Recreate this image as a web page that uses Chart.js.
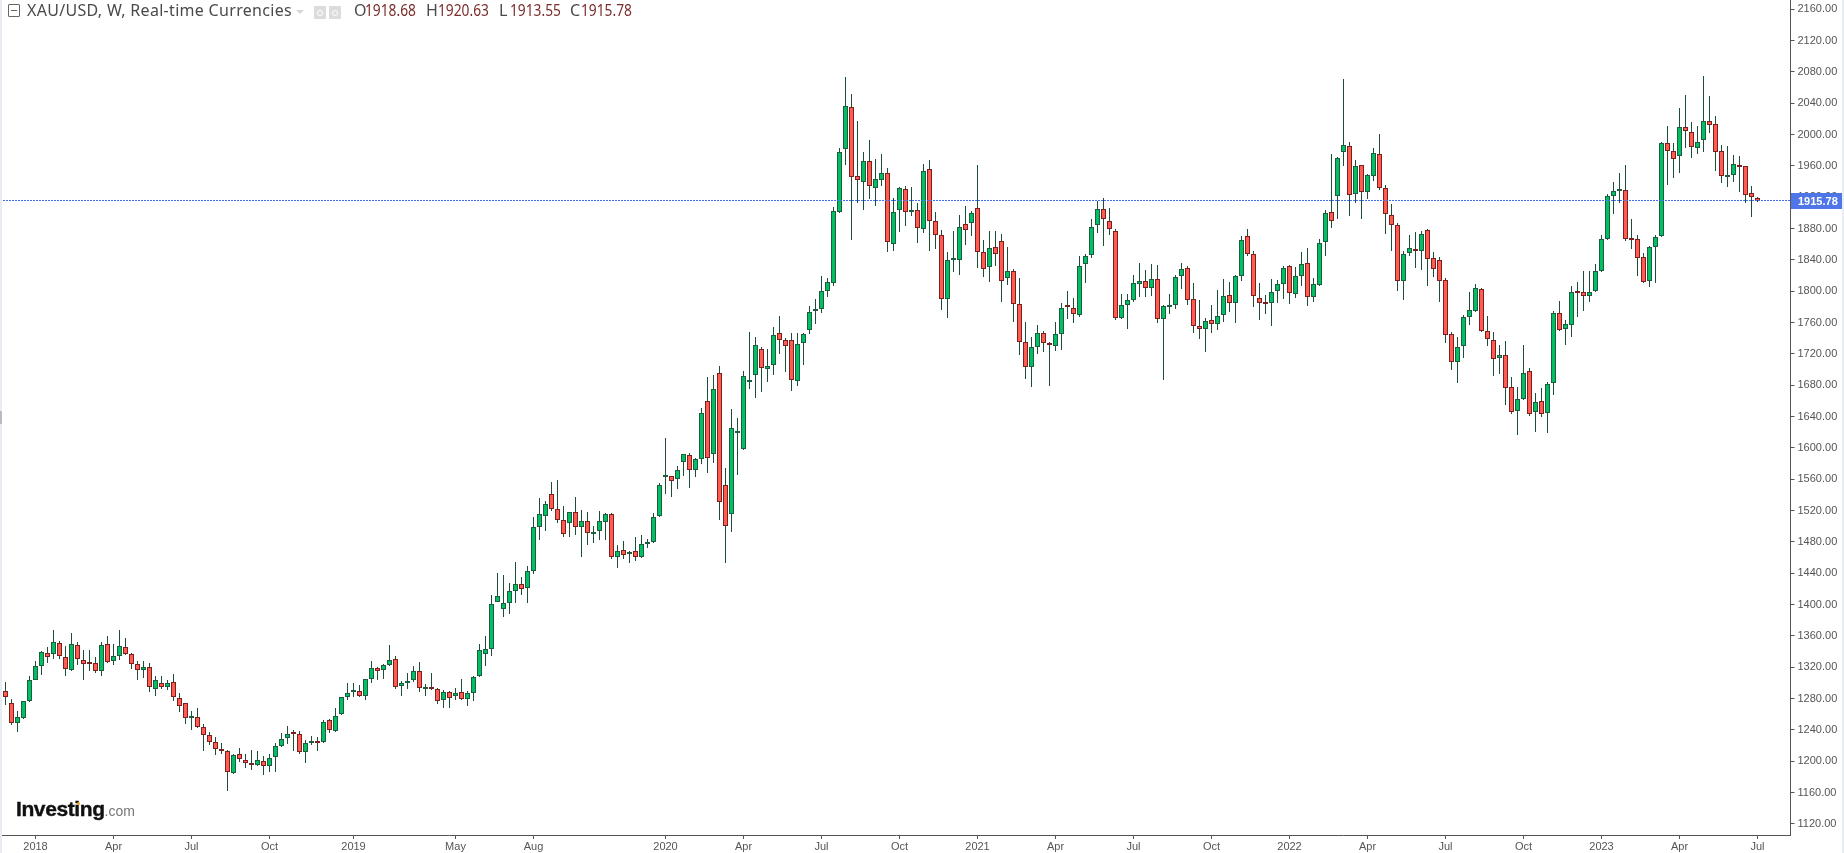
<!DOCTYPE html>
<html>
<head>
<meta charset="utf-8">
<title>XAU/USD weekly</title>
<script src="https://cdn.jsdelivr.net/npm/chart.js@4"></script>
<style>
html, body { margin: 0; padding: 0; background: #fff; overflow: hidden; }
#wrap { position: relative; width: 1844px; height: 853px; }
canvas { position: absolute; left: 0; top: 0; }
.strip { position: absolute; top: 0; height: 853px; background: #e9ecf2; }
#handle { position: absolute; left: 0; top: 411px; width: 2px; height: 13px; background: #b9bcc2; }
#legend { position: absolute; left: 0; top: 0; height: 24px; font: 16px "Noto Sans", sans-serif; color: #4a4a4a; white-space: nowrap; }
#legend span { position: absolute; top: -1px; }
#legend .val { color: #7b2b2b; transform: scaleX(0.86); transform-origin: 0 50%; }
.box { position: absolute; top: 6px; width: 12px; height: 13px; background: #dcdcdc; }
.box i { position: absolute; left: 3px; top: 4px; width: 4px; height: 4px; border: 1px solid #fff; border-radius: 50%; }
#collapse { position: absolute; left: 8px; top: 4px; width: 10px; height: 11px; border: 1px solid #666; border-radius: 1px; }
#collapse i { position: absolute; left: 2px; top: 5px; width: 6px; height: 1px; background: #666; }
#chev { position: absolute; left: 296px; top: 10px; width: 0; height: 0; border-left: 4px solid transparent; border-right: 4px solid transparent; border-top: 4px solid #d5d5d5; }
#logo { position: absolute; left: 16px; top: 797px; font-family: "Liberation Sans", Arial, sans-serif; white-space: nowrap; line-height: 24px; }
#logo b { font-size: 21px; letter-spacing: -0.4px; color: #111; -webkit-text-stroke: 0.4px #111; }
#logo span { font-size: 14px; color: #777; }
#dot { position: absolute; left: 77px; top: 802px; width: 3px; height: 3px; background: #f5a623; border-radius: 50%; }
</style>
</head>
<body>
<div id="wrap">
  <canvas id="chart" width="1844" height="853"></canvas>
  <div class="strip" style="left:0;width:2px"></div>
  <div class="strip" style="left:1842px;width:2px"></div>
  <div id="handle"></div>
  <div id="legend">
    <div id="collapse"><i></i></div>
    <span style="left:27px;letter-spacing:0.3px">XAU/USD, W, Real-time Currencies</span>
    <div id="chev"></div>
    <div class="box" style="left:314px"><i></i></div>
    <div class="box" style="left:329px"><i></i></div>
    <span style="left:354px">O</span><span class="val" style="left:365px">1918.68</span>
    <span style="left:426px">H</span><span class="val" style="left:438px">1920.63</span>
    <span style="left:499px">L</span><span class="val" style="left:510px">1913.55</span>
    <span style="left:570px">C</span><span class="val" style="left:581px">1915.78</span>
  </div>
  <div id="logo"><b>Investing</b><span>.com</span></div>
  <div id="dot"></div>
</div>
<script>
// --- Data ---
const opens = [
  1289.4,1274.0,1248.5,1254.9,1276.6,1304.3,1321.3,1337.9,1336.6,1350.6,
  1332.8,1316.2,1348.1,1329.0,1325.1,1325.1,1314.9,1349.4,1327.7,1334.0,
  1345.5,1336.6,1323.8,1316.2,1320.0,1291.9,1299.6,1294.5,1300.9,1280.4,
  1274.0,1254.9,1256.2,1243.4,1233.2,1224.3,1215.3,1212.8,1184.7,1209.0,
  1201.3,1196.2,1194.9,1200.0,1193.6,1205.1,1219.2,1229.4,1235.7,1234.5,
  1211.5,1223.4,1225.5,1224.3,1252.3,1238.3,1260.0,1281.7,1288.1,1289.4,
  1283.0,1304.7,1318.7,1316.2,1322.6,1330.2,1295.7,1299.6,1303.4,1314.9,
  1292.3,1293.2,1291.9,1277.9,1288.1,1283.0,1288.1,1279.2,1286.8,1308.5,
  1336.6,1343.0,1403.0,1394.0,1401.7,1417.0,1426.0,1420.9,1442.5,1498.7,
  1512.8,1540.9,1521.7,1507.7,1503.8,1517.9,1498.7,1506.4,1489.8,1493.6,
  1505.1,1515.3,1460.4,1469.3,1464.2,1468.0,1460.4,1477.0,1479.6,1512.8,
  1562.5,1563.8,1560.0,1581.7,1590.6,1571.5,1585.5,1659.6,1591.9,1695.3,
  1552.3,1515.3,1618.7,1598.3,1683.8,1692.7,1725.9,1700.4,1705.5,1746.4,
  1737.4,1737.4,1685.1,1733.6,1750.2,1774.4,1777.0,1800.0,1810.2,1900.8,
  1981.3,2034.9,1946.8,1939.1,1965.9,1931.5,1941.7,1950.6,1860.0,1903.4,
  1930.2,1900.8,1903.4,1879.1,1955.7,1889.3,1871.5,1789.8,1839.6,1839.6,
  1885.5,1886.8,1905.9,1849.8,1830.6,1856.2,1863.8,1816.6,1825.5,1783.4,
  1734.9,1703.0,1728.5,1746.4,1732.3,1729.8,1745.1,1780.8,1778.3,1769.3,
  1834.4,1845.9,1884.2,1904.7,1889.3,1876.6,1765.5,1782.1,1788.5,1808.9,
  1812.7,1803.8,1815.3,1764.2,1779.6,1782.1,1819.1,1829.3,1789.8,1755.3,
  1751.5,1763.0,1757.9,1769.3,1794.9,1784.7,1819.1,1870.2,1847.2,1791.0,
  1785.9,1784.7,1800.0,1808.9,1831.9,1796.2,1819.1,1835.7,1792.3,1807.6,
  1862.5,1900.8,1921.3,1977.4,1985.1,1923.8,1960.8,1926.4,1946.8,1974.9,
  1931.5,1897.0,1884.2,1812.7,1848.5,1852.3,1851.0,1877.9,1842.1,1839.6,
  1814.0,1745.1,1709.3,1729.8,1766.8,1774.4,1802.5,1748.9,1737.4,1714.4,
  1718.3,1677.4,1646.8,1662.1,1697.9,1645.5,1659.6,1644.2,1682.5,1771.9,
  1751.5,1756.6,1798.7,1798.7,1793.6,1800.0,1825.5,1866.4,1921.3,1927.6,
  1928.9,1866.4,1866.4,1843.4,1812.7,1856.2,1870.2,1988.9,1978.7,1972.3,
  2009.3,2003.0,1982.5,1992.7,2017.0,2013.2,1978.7,1945.5,1948.1,1960.8,
  1959.6,1925.1,1918.68
];
const highs = [
  1301.3,1279.6,1263.8,1277.5,1308.5,1327.7,1340.9,1345.5,1367.2,1353.2,
  1346.8,1363.4,1351.9,1341.7,1341.7,1332.8,1351.9,1359.6,1349.4,1367.2,
  1357.5,1337.9,1327.7,1327.7,1325.1,1309.4,1309.4,1303.8,1311.1,1286.8,
  1274.0,1263.8,1267.7,1247.2,1237.0,1230.6,1223.0,1214.5,1209.0,1216.6,
  1209.0,1214.0,1212.8,1206.4,1209.0,1223.0,1235.7,1244.7,1239.6,1238.3,
  1227.2,1232.0,1230.6,1252.3,1253.6,1267.7,1282.6,1299.6,1299.6,1297.9,
  1304.7,1327.7,1320.0,1323.8,1348.1,1334.0,1302.1,1312.3,1321.3,1326.8,
  1298.3,1312.3,1293.2,1290.6,1289.4,1293.2,1304.7,1289.4,1308.5,1349.4,
  1359.6,1411.9,1440.0,1437.4,1427.2,1454.0,1434.9,1448.9,1511.5,1535.7,
  1531.9,1556.2,1558.7,1525.5,1517.9,1537.0,1520.4,1517.9,1500.4,1519.1,
  1516.6,1516.6,1475.7,1481.3,1468.0,1486.0,1488.5,1483.4,1516.6,1554.9,
  1612.3,1563.8,1577.0,1591.9,1593.2,1586.8,1650.6,1690.6,1692.8,1704.2,
  1574.0,1649.3,1637.9,1697.9,1747.6,1741.3,1728.5,1725.9,1754.0,1768.1,
  1740.0,1746.4,1746.4,1746.4,1780.8,1789.8,1819.1,1816.6,1907.2,1982.5,
  2073.2,2051.5,2017.0,1977.4,1992.7,1968.5,1974.9,1957.0,1918.7,1932.7,
  1934.0,1932.7,1912.3,1962.1,1967.2,1900.8,1877.9,1849.8,1876.6,1897.0,
  1908.5,1902.1,1960.8,1865.1,1876.6,1876.6,1872.7,1856.2,1828.1,1816.6,
  1760.4,1741.3,1756.6,1748.9,1734.9,1760.4,1784.7,1800.0,1791.0,1844.7,
  1847.2,1891.9,1914.9,1918.7,1905.9,1879.1,1796.2,1796.2,1820.4,1835.7,
  1826.8,1834.4,1833.2,1782.1,1796.2,1820.4,1835.7,1831.9,1810.2,1788.5,
  1765.5,1782.1,1801.3,1815.3,1811.5,1820.4,1870.2,1879.1,1851.0,1810.2,
  1794.9,1815.3,1814.0,1831.9,1833.2,1830.6,1849.8,1854.9,1816.6,1866.4,
  1903.4,1974.9,1971.0,2070.6,1990.2,1967.2,1960.8,1949.3,1982.5,2000.4,
  1935.3,1911.0,1886.8,1851.0,1871.5,1875.3,1876.6,1879.1,1849.8,1843.4,
  1816.6,1747.6,1741.3,1769.3,1798.7,1808.9,1803.8,1768.1,1747.6,1731.0,
  1736.1,1690.2,1677.4,1731.0,1701.7,1669.8,1676.2,1683.8,1774.4,1787.2,
  1763.0,1806.4,1811.5,1825.5,1825.5,1834.4,1871.5,1923.8,1939.1,1950.6,
  1960.8,1891.9,1871.5,1848.5,1857.4,1871.5,1990.2,2010.6,1988.9,2033.6,
  2050.2,2015.7,2010.6,2074.9,2048.9,2023.4,1986.4,1985.1,1973.6,1972.3,
  1959.6,1934.0,1920.63
];
const lows = [
  1272.3,1246.8,1237.4,1254.5,1276.2,1303.8,1310.6,1326.0,1330.6,1330.2,
  1309.4,1315.8,1323.4,1303.8,1315.8,1312.3,1309.4,1325.1,1323.4,1329.8,
  1335.8,1317.9,1303.8,1306.8,1288.9,1283.8,1291.9,1291.1,1277.5,1263.4,
  1248.1,1240.4,1242.1,1213.6,1220.4,1207.7,1209.0,1162.6,1184.3,1198.7,
  1191.9,1188.9,1193.6,1183.0,1186.8,1186.0,1218.8,1222.1,1213.6,1209.0,
  1198.3,1220.4,1213.6,1223.8,1235.7,1237.9,1259.6,1278.7,1281.7,1282.6,
  1278.7,1299.6,1304.3,1305.5,1322.1,1292.8,1283.8,1292.8,1300.9,1288.9,
  1283.8,1291.5,1273.6,1268.5,1268.5,1278.7,1277.9,1271.1,1277.5,1308.1,
  1322.1,1334.9,1403.0,1384.7,1388.5,1402.5,1412.8,1402.5,1439.6,1483.0,
  1494.5,1520.0,1504.7,1486.8,1486.8,1489.4,1461.3,1476.6,1479.1,1483.0,
  1483.0,1458.7,1447.2,1458.7,1453.6,1456.2,1460.0,1472.8,1479.1,1512.3,
  1541.7,1537.9,1548.0,1564.7,1549.3,1563.4,1580.0,1568.5,1581.2,1508.5,
  1453.6,1493.2,1566.0,1597.9,1675.3,1664.2,1671.9,1684.7,1693.6,1720.4,
  1697.4,1673.2,1679.6,1706.4,1745.9,1758.7,1772.7,1793.2,1807.2,1900.4,
  1961.7,1865.9,1913.2,1904.2,1918.3,1909.3,1934.9,1850.6,1851.9,1876.2,
  1883.8,1896.6,1862.1,1874.9,1851.9,1854.4,1776.6,1766.4,1825.1,1821.3,
  1859.6,1871.0,1830.2,1818.7,1812.3,1832.7,1786.8,1808.5,1761.3,1719.1,
  1688.5,1678.3,1720.4,1723.0,1679.6,1724.2,1725.5,1765.1,1759.1,1767.6,
  1811.0,1843.0,1874.9,1858.3,1872.3,1763.8,1765.1,1752.3,1786.8,1793.2,
  1793.2,1794.0,1760.0,1687.2,1771.5,1777.9,1803.4,1783.0,1747.2,1739.6,
  1723.0,1747.2,1751.0,1761.3,1774.0,1760.0,1813.6,1845.5,1780.4,1763.8,
  1771.5,1756.2,1785.5,1790.6,1784.2,1791.5,1807.2,1781.7,1786.8,1807.2,
  1845.5,1881.3,1892.7,1960.4,1896.6,1913.2,1892.7,1918.3,1941.3,1928.9,
  1873.6,1851.9,1800.8,1789.3,1844.7,1830.2,1827.6,1807.2,1818.7,1786.8,
  1734.4,1700.0,1683.4,1714.4,1757.4,1773.2,1747.6,1729.8,1691.5,1694.0,
  1655.3,1643.0,1617.0,1660.8,1641.3,1620.0,1640.0,1618.7,1667.2,1748.9,
  1731.0,1741.3,1767.6,1774.4,1785.9,1798.7,1825.1,1866.0,1898.3,1913.2,
  1863.8,1854.4,1820.0,1811.0,1805.9,1811.0,1869.8,1936.2,1945.1,1951.5,
  1983.4,1970.6,1975.7,1978.3,2002.5,1954.0,1938.7,1933.6,1940.0,1927.2,
  1912.3,1895.3,1913.55
];
const closes = [
  1281.7,1249.4,1256.2,1276.6,1303.4,1321.3,1339.2,1332.8,1351.9,1334.0,
  1317.5,1349.4,1330.2,1323.8,1324.7,1314.9,1348.1,1326.4,1334.0,1346.8,
  1336.6,1323.8,1316.2,1320.0,1294.5,1303.4,1294.5,1299.6,1281.7,1270.2,
  1254.9,1256.2,1243.4,1233.2,1224.3,1215.3,1212.8,1186.0,1207.7,1202.6,
  1197.5,1194.9,1201.3,1193.6,1203.8,1219.2,1228.1,1234.5,1234.5,1211.5,
  1223.0,1224.3,1223.0,1249.8,1239.6,1257.5,1281.7,1286.8,1289.4,1283.0,
  1304.7,1318.7,1314.9,1322.6,1329.0,1294.5,1299.6,1302.1,1314.9,1293.2,
  1293.2,1291.9,1276.6,1288.1,1280.4,1286.8,1279.2,1286.8,1307.2,1341.7,
  1343.0,1400.4,1410.6,1401.7,1417.0,1426.0,1419.6,1442.5,1498.7,1515.3,
  1528.0,1521.7,1507.7,1489.8,1517.9,1498.7,1506.4,1491.0,1491.0,1506.4,
  1515.3,1460.4,1468.0,1463.0,1465.5,1460.4,1477.0,1479.6,1511.5,1552.3,
  1563.8,1557.4,1571.5,1591.9,1571.5,1585.5,1644.3,1586.8,1674.9,1530.6,
  1500.0,1625.1,1620.0,1691.5,1686.4,1731.0,1701.7,1704.2,1743.8,1737.4,
  1729.8,1686.4,1732.3,1745.1,1773.2,1775.7,1800.0,1811.5,1902.1,1977.4,
  2036.2,1945.5,1941.7,1965.9,1934.0,1943.0,1950.6,1862.5,1900.8,1931.5,
  1900.8,1903.4,1880.4,1953.2,1889.3,1871.5,1789.8,1839.6,1840.8,1881.7,
  1877.9,1899.6,1849.8,1828.1,1854.9,1847.2,1812.7,1825.5,1783.4,1734.9,
  1703.0,1728.5,1746.4,1733.6,1731.0,1745.1,1778.3,1779.6,1770.6,1831.9,
  1844.7,1881.7,1904.7,1891.9,1879.1,1765.5,1782.1,1788.5,1810.2,1812.7,
  1803.8,1815.3,1764.2,1780.8,1782.1,1817.9,1828.1,1788.5,1755.3,1751.5,
  1761.7,1757.9,1768.1,1793.6,1784.7,1819.1,1865.1,1847.2,1793.6,1784.7,
  1783.4,1798.7,1808.9,1829.3,1797.4,1819.1,1834.4,1792.3,1808.9,1861.3,
  1899.6,1889.3,1969.8,1986.4,1922.5,1959.6,1926.4,1948.1,1976.2,1931.5,
  1898.3,1884.2,1812.7,1847.2,1854.9,1851.9,1872.7,1840.8,1828.1,1812.7,
  1743.8,1709.3,1728.5,1766.8,1775.7,1803.8,1748.9,1738.7,1713.2,1718.3,
  1676.2,1645.5,1662.1,1695.3,1643.0,1658.3,1643.0,1681.3,1771.9,1750.2,
  1757.9,1798.7,1797.4,1793.6,1798.7,1825.5,1866.4,1921.3,1927.6,1928.9,
  1866.4,1865.1,1842.1,1811.5,1856.2,1868.9,1988.9,1978.7,1968.5,2009.3,
  2004.2,1983.8,1990.2,2017.0,2011.9,1977.4,1946.8,1948.1,1962.1,1958.3,
  1922.5,1920.0,1915.78
];

const yTicks = [1120,1160,1200,1240,1280,1320,1360,1400,1440,1480,1520,1560,1600,1640,1680,1720,1760,1800,1840,1880,1920,1960,2000,2040,2080,2120,2160];
const xTickSlots = [5,18,31,44,58,75,88,110,123,136,149,162,175,188,201,214,227,240,253,266,279,292];
const xTickLabels = ['2018','Apr','Jul','Oct','2019','May','Aug','2020','Apr','Jul','Oct','2021','Apr','Jul','Oct','2022','Apr','Jul','Oct','2023','Apr','Jul'];
const lastPrice = 1915.78;

// a few empty weeks to the right of the last candle
const categories = [];
for (let i = 0; i < 298; i++) categories.push(i);

const upFill = '#00c063', downFill = '#ff5b4f';
const upEdge = '#1c5e3f', downEdge = '#7a2020';
const wickColor = '#1d4f38';
const isUp = closes.map((c, i) => c >= opens[i]);

// Bars are not snapped by Chart.js, the original chart has crisp edges
const snapBars = {
  id: 'snapBars',
  afterDatasetsUpdate(chart) {
    chart.data.datasets.forEach((d, i) => {
      chart.getDatasetMeta(i).data.forEach(el => {
        el.y = Math.round(el.y);
        el.base = Math.round(el.base);
      });
    });
  }
};

// Dotted last price line and its tag on the axis
const lastPriceLine = {
  id: 'lastPriceLine',
  afterDatasetsDraw(chart) {
    const ctx = chart.ctx;
    const y = Math.floor(chart.scales.y.getPixelForValue(lastPrice)) + 0.5;
    ctx.save();
    ctx.strokeStyle = '#3d6ff0';
    ctx.lineWidth = 1;
    ctx.setLineDash([2, 1]);
    ctx.beginPath();
    ctx.moveTo(0, y);
    ctx.lineTo(1791, y);
    ctx.stroke();
    ctx.restore();
  },
  afterDraw(chart) {
    const ctx = chart.ctx;
    const y = chart.scales.y.getPixelForValue(lastPrice);
    ctx.save();
    ctx.fillStyle = '#4f76e8';
    ctx.fillRect(1791, Math.round(y) - 8, 51, 16);
    ctx.fillStyle = '#fff';
    ctx.font = 'bold 11px "Liberation Sans", Arial, sans-serif';
    ctx.textAlign = 'left';
    ctx.textBaseline = 'middle';
    ctx.fillText(lastPrice.toFixed(2), 1798, y + 1);
    ctx.restore();
  }
};

new Chart(document.getElementById('chart').getContext('2d'), {
  type: 'bar',
  data: {
    labels: categories,
    datasets: [
      {
        label: 'Wick',
        data: highs.map((h, i) => [lows[i], h]),
        backgroundColor: wickColor,
        borderWidth: 0,
        barThickness: 1,
        grouped: false,
        inflateAmount: 0,
        order: 2
      },
      {
        label: 'Body',
        data: opens.map((o, i) => [o, closes[i]]),
        backgroundColor: isUp.map(u => u ? upFill : downFill),
        borderColor: isUp.map(u => u ? upEdge : downEdge),
        borderWidth: 1,
        borderSkipped: false,
        barThickness: 5,
        minBarLength: 2,
        grouped: false,
        inflateAmount: 0,
        order: 1
      }
    ]
  },
  options: {
    responsive: false,
    animation: false,
    events: [],
    layout: { padding: { left: 2.5, right: 0, top: 0, bottom: 0 } },
    plugins: { legend: { display: false }, tooltip: { enabled: false } },
    scales: {
      x: {
        afterFit(axis) { axis.height = 18; axis.paddingLeft = 0; axis.paddingRight = 0; },
        afterBuildTicks(axis) { axis.ticks = xTickSlots.map(v => ({ value: v })); },
        grid: { drawOnChartArea: false, tickLength: 4, color: '#555', offset: false },
        border: { color: '#555' },
        ticks: {
          autoSkip: false,
          maxRotation: 0,
          padding: 1,
          color: '#555',
          font: { family: '"Liberation Sans", Arial, sans-serif', size: 11 },
          callback: (value, index) => xTickLabels[index]
        }
      },
      y: {
        position: 'right',
        min: 1105.95,
        max: 2171.91,
        afterFit(axis) { axis.width = 53.5; axis.paddingTop = 0; axis.paddingBottom = 0; },
        afterBuildTicks(axis) { axis.ticks = yTicks.map(v => ({ value: v })); },
        grid: { drawOnChartArea: false, tickLength: 4, color: '#555' },
        border: { color: '#555' },
        ticks: {
          padding: 3,
          color: '#555',
          font: { family: '"Liberation Sans", Arial, sans-serif', size: 11 },
          callback: value => Number(value).toFixed(2)
        }
      }
    }
  },
  plugins: [snapBars, lastPriceLine]
});
</script>
</body>
</html>
